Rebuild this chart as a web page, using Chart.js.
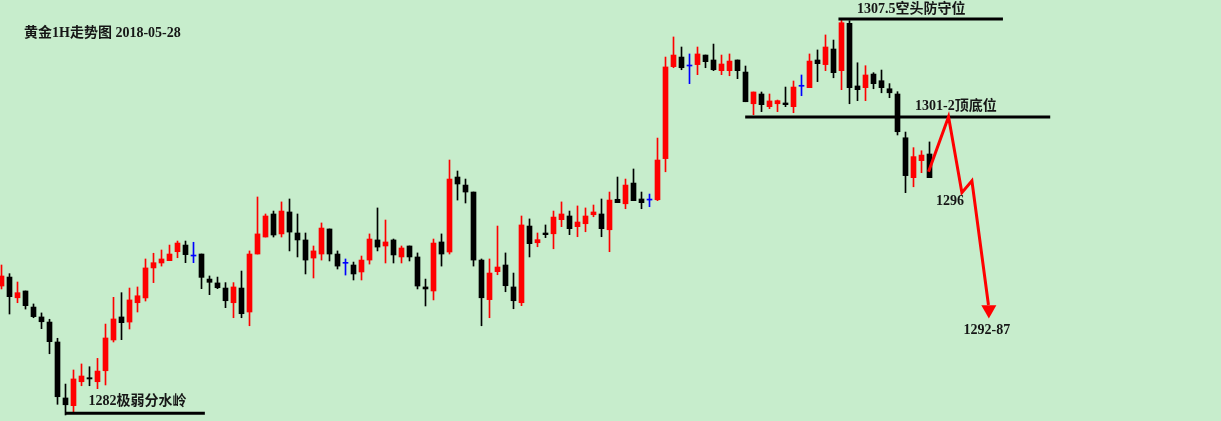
<!DOCTYPE html>
<html>
<head>
<meta charset="utf-8">
<script src="https://cdn.jsdelivr.net/npm/chart.js@4.4.0/dist/chart.umd.min.js"></script>
<style>
html, body { margin: 0; padding: 0; background: #c7edcc; }
#wrap { width: 1221px; height: 421px; position: relative; }
</style>
</head>
<body>
<div id="wrap"><canvas id="chart"></canvas></div>
<script>
// gold 1H candles
const opens = [
  1290.23, 1290.81, 1289.47, 1289.91, 1288.87, 1288.23, 1287.90, 1286.61, 1282.99, 1282.49,
  1284.04, 1284.30, 1284.04, 1284.75, 1286.74, 1288.23, 1287.90, 1289.15, 1289.46, 1291.40,
  1291.72, 1291.87, 1292.45, 1292.88, 1292.17, 1292.30, 1290.68, 1290.43, 1290.10, 1289.15,
  1290.10, 1288.55, 1292.30, 1293.40, 1294.89, 1293.60, 1295.02, 1293.66, 1293.21, 1292.04,
  1292.30, 1293.92, 1292.30, 1291.70, 1291.59, 1291.14, 1291.91, 1293.21, 1292.82, 1293.21,
  1292.11, 1292.82, 1292.11, 1290.17, 1289.91, 1293.08, 1292.43, 1297.28, 1296.76, 1296.31,
  1291.91, 1289.35, 1291.16, 1291.59, 1290.17, 1289.15, 1294.11, 1293.03, 1293.66, 1293.61,
  1294.52, 1294.76, 1294.07, 1294.26, 1294.84, 1294.89, 1293.87, 1295.84, 1295.55, 1296.89,
  1295.86, 1295.79, 1295.81, 1298.47, 1304.42, 1305.04, 1304.46, 1304.55, 1305.17, 1304.85,
  1304.16, 1304.16, 1304.85, 1304.07, 1302.02, 1302.65, 1301.83, 1302.02, 1302.07, 1301.83,
  1303.15, 1303.06, 1304.85, 1304.55, 1305.56, 1304.16, 1307.22, 1303.17, 1303.06, 1303.94,
  1303.51, 1302.99, 1302.65, 1299.82, 1297.24, 1298.34, 1298.77
];
const highs = [
  1291.59, 1291.03, 1290.49, 1289.91, 1289.07, 1288.49, 1288.08, 1286.85, 1283.89, 1284.80,
  1285.19, 1285.01, 1285.55, 1287.77, 1289.50, 1289.80, 1290.10, 1290.17, 1291.98, 1292.35,
  1292.56, 1292.88, 1293.14, 1293.14, 1293.06, 1292.30, 1290.88, 1290.81, 1290.45, 1290.45,
  1291.20, 1292.50, 1295.99, 1294.89, 1295.08, 1295.67, 1295.86, 1294.89, 1293.66, 1292.82,
  1294.31, 1293.92, 1292.50, 1291.98, 1291.78, 1292.17, 1293.60, 1295.28, 1294.50, 1293.27,
  1292.82, 1292.82, 1292.37, 1290.68, 1293.27, 1293.60, 1298.38, 1297.67, 1297.15, 1296.31,
  1291.98, 1291.98, 1294.11, 1292.37, 1291.07, 1294.76, 1294.57, 1293.66, 1294.18, 1295.08,
  1295.67, 1295.08, 1295.41, 1295.28, 1295.47, 1295.86, 1296.31, 1297.28, 1297.15, 1297.80,
  1296.31, 1296.18, 1299.80, 1305.04, 1306.34, 1305.69, 1305.24, 1305.69, 1305.17, 1305.88,
  1305.17, 1305.24, 1304.85, 1304.46, 1302.78, 1302.78, 1302.65, 1302.26, 1303.10, 1303.49,
  1303.88, 1305.24, 1305.50, 1306.47, 1306.14, 1307.44, 1307.39, 1304.67, 1304.48, 1304.03,
  1304.20, 1303.32, 1302.80, 1300.19, 1299.18, 1298.98, 1299.55
];
const lows = [
  1290.04, 1288.42, 1289.15, 1288.74, 1288.18, 1287.47, 1285.85, 1282.58, 1281.89, 1282.06,
  1283.78, 1283.78, 1283.59, 1283.83, 1286.61, 1286.76, 1287.45, 1288.55, 1289.26, 1290.45,
  1291.52, 1291.87, 1292.06, 1291.74, 1291.74, 1290.06, 1289.67, 1290.06, 1288.83, 1288.18,
  1288.18, 1287.66, 1292.30, 1293.40, 1293.40, 1293.40, 1292.50, 1292.11, 1291.01, 1290.75,
  1291.91, 1291.85, 1291.33, 1290.94, 1290.62, 1290.62, 1291.65, 1292.50, 1291.72, 1291.72,
  1291.72, 1291.85, 1290.04, 1288.94, 1289.33, 1291.52, 1292.30, 1295.79, 1295.60, 1291.52,
  1287.66, 1288.18, 1290.96, 1289.86, 1288.76, 1288.96, 1292.11, 1292.77, 1293.36, 1292.64,
  1294.07, 1293.55, 1293.42, 1293.74, 1294.71, 1293.42, 1292.45, 1295.62, 1295.23, 1295.75,
  1295.23, 1295.36, 1295.75, 1297.62, 1304.35, 1304.22, 1303.32, 1303.90, 1304.35, 1304.16,
  1303.90, 1303.83, 1303.64, 1302.15, 1301.31, 1301.51, 1301.70, 1301.51, 1301.83, 1301.44,
  1302.54, 1303.06, 1303.45, 1304.16, 1303.70, 1302.93, 1302.02, 1302.22, 1302.22, 1302.99,
  1302.73, 1302.41, 1300.00, 1296.27, 1296.65, 1297.56, 1297.24
];
const closes = [
  1290.88, 1289.54, 1289.80, 1288.96, 1288.25, 1287.92, 1286.63, 1283.07, 1282.55, 1284.22,
  1284.41, 1284.22, 1284.73, 1286.87, 1288.10, 1287.86, 1289.33, 1289.60, 1291.40, 1291.74,
  1291.98, 1292.30, 1293.01, 1292.26, 1292.17, 1290.79, 1290.47, 1290.12, 1289.28, 1290.17,
  1288.44, 1292.30, 1293.60, 1294.76, 1293.53, 1295.08, 1293.72, 1293.21, 1291.91, 1292.50,
  1293.98, 1292.30, 1291.52, 1291.70, 1291.01, 1291.91, 1293.27, 1292.75, 1293.08, 1292.24,
  1292.69, 1292.11, 1290.23, 1290.04, 1293.01, 1292.30, 1297.15, 1296.83, 1296.31, 1291.91,
  1289.47, 1291.07, 1291.46, 1290.25, 1289.28, 1294.18, 1292.97, 1293.23, 1293.55, 1294.69,
  1294.89, 1293.94, 1294.37, 1294.76, 1295.02, 1293.94, 1295.79, 1295.62, 1296.76, 1295.75,
  1295.62, 1295.79, 1298.38, 1304.40, 1305.17, 1304.35, 1304.46, 1305.24, 1304.74, 1304.22,
  1304.59, 1304.78, 1304.16, 1302.15, 1302.78, 1301.96, 1302.20, 1302.22, 1301.96, 1303.10,
  1303.15, 1304.78, 1304.61, 1305.69, 1304.03, 1307.26, 1303.06, 1302.93, 1303.88, 1303.32,
  1303.06, 1302.73, 1300.21, 1297.37, 1298.60, 1298.70, 1297.24
];

// drawn levels: [startBar, endBar, price]
const levelDefense = [104.62, 125.18, 1307.5];
const levelPivot = [92.96, 131.09, 1301.16];
const levelSupport = [8.0, 25.42, 1282.0];

// forecast path (bar index, price)
const pathX = [115.88, 118.38, 120.05, 121.3, 123.37];
const pathY = [1297.62, 1301.18, 1296.27, 1297.04, 1289.0];
const arrowHead = [123.42, 1288.7];

const titleText = '黄金1H走势图 2018-05-28';
const labelTexts = ['1307.5空头防守位', '1301-2顶底位', '1282极弱分水岭', '1296', '1292-87'];
const labelX = [106.93, 114.2, 10.875, 116.8, 120.25];
const labelY = [1308.12, 1301.83, 1282.75, 1295.73, 1287.39];

const UP = '#ff0000', DOWN = '#000000', FLAT = '#0000ff';

function candle_color(i) {
    if (closes[i] > opens[i]) return UP;
    if (closes[i] < opens[i]) return DOWN;
    return FLAT;
}

function level_data(lv) {
    return [{x: lv[0], y: lv[2]}, {x: lv[1], y: lv[2]}];
}

const colors = opens.map((o, i) => candle_color(i));
const wickData = opens.map((o, i) => ({x: i, y: [lows[i], highs[i]]}));
const bodyData = opens.map((o, i) => ({x: i, y: [opens[i], closes[i]]}));
const pathData = pathX.map((x, i) => ({x: x, y: pathY[i]}));

const bgPlugin = {
    id: 'bg',
    beforeDraw(chart) {
        const ctx = chart.ctx;
        ctx.save();
        ctx.fillStyle = '#c7edcc';
        ctx.fillRect(0, 0, chart.width, chart.height);
        ctx.restore();
    }
};

const textPlugin = {
    id: 'texts',
    afterDatasetsDraw(chart) {
        const ctx = chart.ctx;
        const xs = chart.scales.x, ys = chart.scales.y;
        ctx.save();
        ctx.fillStyle = '#161616';
        ctx.textBaseline = 'middle';
        ctx.textAlign = 'left';
        ctx.font = 'bold 14px "Liberation Serif", "Noto Sans CJK SC", serif';
        ctx.fillText(titleText, 24, 33);
        for (let i = 0; i < labelTexts.length; i++) {
            ctx.fillText(labelTexts[i], xs.getPixelForValue(labelX[i]), ys.getPixelForValue(labelY[i]));
        }
        ctx.restore();
    }
};

const cfg = {
    data: {
        datasets: [
            {
                type: 'bar', data: wickData, backgroundColor: colors,
                barThickness: 1, grouped: false, order: 3
            },
            {
                type: 'bar', data: bodyData, backgroundColor: colors,
                barThickness: 5, minBarLength: 1, grouped: false, order: 2
            },
            {
                type: 'line', data: level_data(levelDefense), borderColor: '#000',
                borderWidth: 3, pointRadius: 0, order: 1
            },
            {
                type: 'line', data: level_data(levelPivot), borderColor: '#000',
                borderWidth: 3, pointRadius: 0, order: 1
            },
            {
                type: 'line', data: level_data(levelSupport), borderColor: '#000',
                borderWidth: 3, pointRadius: 0, order: 1
            },
            {
                type: 'line', data: pathData, borderColor: UP, borderWidth: 3,
                pointRadius: 0, order: 0
            },
            {
                type: 'line', data: [{x: arrowHead[0], y: arrowHead[1]}], showLine: false,
                pointStyle: 'triangle', pointRadius: 8.7, pointRotation: 180,
                pointBackgroundColor: UP, pointBorderColor: UP, pointBorderWidth: 0, order: 0
            }
        ]
    },
    options: {
        responsive: true,
        maintainAspectRatio: false,
        animation: false,
        devicePixelRatio: 1,
        layout: { padding: 0, autoPadding: false },
        plugins: { legend: { display: false }, tooltip: { enabled: false } },
        scales: {
            x: { type: 'linear', display: false, offset: false, min: -0.1875, max: 152.4375 },
            y: { display: false, min: 1281.50, max: 1308.73 }
        }
    },
    plugins: [bgPlugin, textPlugin]
};

const chart = new Chart(document.getElementById('chart').getContext('2d'), cfg);
</script>
</body>
</html>
